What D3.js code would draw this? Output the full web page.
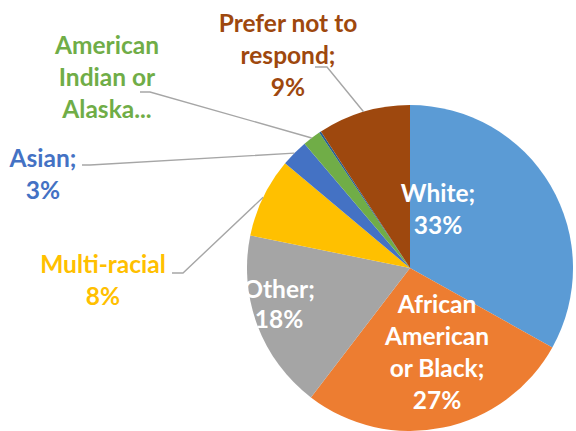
<!DOCTYPE html>
<html lang="en">
<head>
    <meta charset="utf-8">
    <title>Respondents by race</title>
    <script src="https://cdn.jsdelivr.net/npm/d3@7"></script>
    <style>
        html, body { margin: 0; padding: 0; background: #fff; }
        text { font-family: Lato, "Open Sans", sans-serif; font-weight: bold; }
        .leader { fill: none; stroke: #a6a6a6; stroke-width: 1.4; }
    </style>
</head>
<body>
    <div id="chart"></div>
    <script>
        // slices, clockwise from 12 o'clock
        const categories = ['White', 'African American or Black', 'Other', 'Multi-racial',
            'Asian', 'American Indian or Alaska Native', 'Native Hawaiian or Pacific Islander',
            'Prefer not to respond'];
        const shares = [33.1, 27.3, 17.8, 7.9, 2.7, 1.8, 0.2, 9.2];
        const colours = ['#5b9bd5', '#ed7d31', '#a5a5a5', '#ffc000',
            '#4472c4', '#70ad47', '#255e91', '#9e480e'];
        // data label text, one entry per line (null = no label shown)
        const label_lines = [
            ['White;', '33%'],
            ['African', 'American', 'or Black;', '27%'],
            ['Other;', '18%'],
            ['Multi-racial', '8%'],
            ['Asian;', '3%'],
            ['American', 'Indian or', 'Alaska...'],
            null,
            ['Prefer not to', 'respond;', '9%']
        ];

        const width = 576, height = 431,
            center = {x: 410, y: 268},
            radius = 163,
            line_height = 32;

        // label placement: centre x, first baseline, inside or outside, leader start
        const label_pos = [
            {x: 438, y: 202, inside: true},
            {x: 437, y: 313, inside: true},
            {x: 279, y: 298, inside: true, gap: 30},
            {x: 103, y: 273, leader: [[172, 273], [183, 273]]},
            {x: 43, y: 167, leader: [[82, 165], [90, 165]]},
            {x: 107, y: 54, leader: [[140, 92], [150, 92]]},
            null,
            {x: 288, y: 32, leader: [[315, 67], [327, 67]]}
        ];

        const svg = d3.select('#chart')
            .append('svg')
                .attr('width', width)
                .attr('height', height);

        const pie = d3.pie()
            .sort(null)
            .value(d => d);

        const arcs = pie(shares);

        const arc = d3.arc()
            .innerRadius(0)
            .outerRadius(radius);

        const g = svg.append('g')
            .attr('transform', `translate(${center.x}, ${center.y})`);

        g.selectAll('path.slice')
            .data(arcs)
            .join('path')
                .attr('class', 'slice')
                .attr('d', arc)
                .attr('fill', (d, i) => colours[i]);

        // leader lines: from label elbow to the middle of the slice edge
        const edge_point = d => {
            const a = (d.startAngle + d.endAngle) / 2;
            return [center.x + radius * Math.sin(a), center.y - radius * Math.cos(a)];
        };

        const line = d3.line();
        arcs.forEach((d, i) => {
            const pos = label_pos[i];
            if (!pos || !pos.leader) return;
            svg.append('path')
                .attr('class', 'leader')
                .attr('d', line([...pos.leader, edge_point(d)]));
        });

        // data labels
        arcs.forEach((d, i) => {
            const pos = label_pos[i];
            if (!pos) return;
            const step = pos.gap || line_height;
            const t = svg.append('text')
                .attr('text-anchor', 'middle')
                .attr('font-size', 24.5)
                .attr('fill', pos.inside ? '#ffffff' : colours[i]);
            label_lines[i].forEach((s, k) => {
                t.append('tspan')
                    .attr('x', pos.x)
                    .attr('y', pos.y + k * step)
                    .text(s);
            });
        });
    </script>
</body>
</html>
